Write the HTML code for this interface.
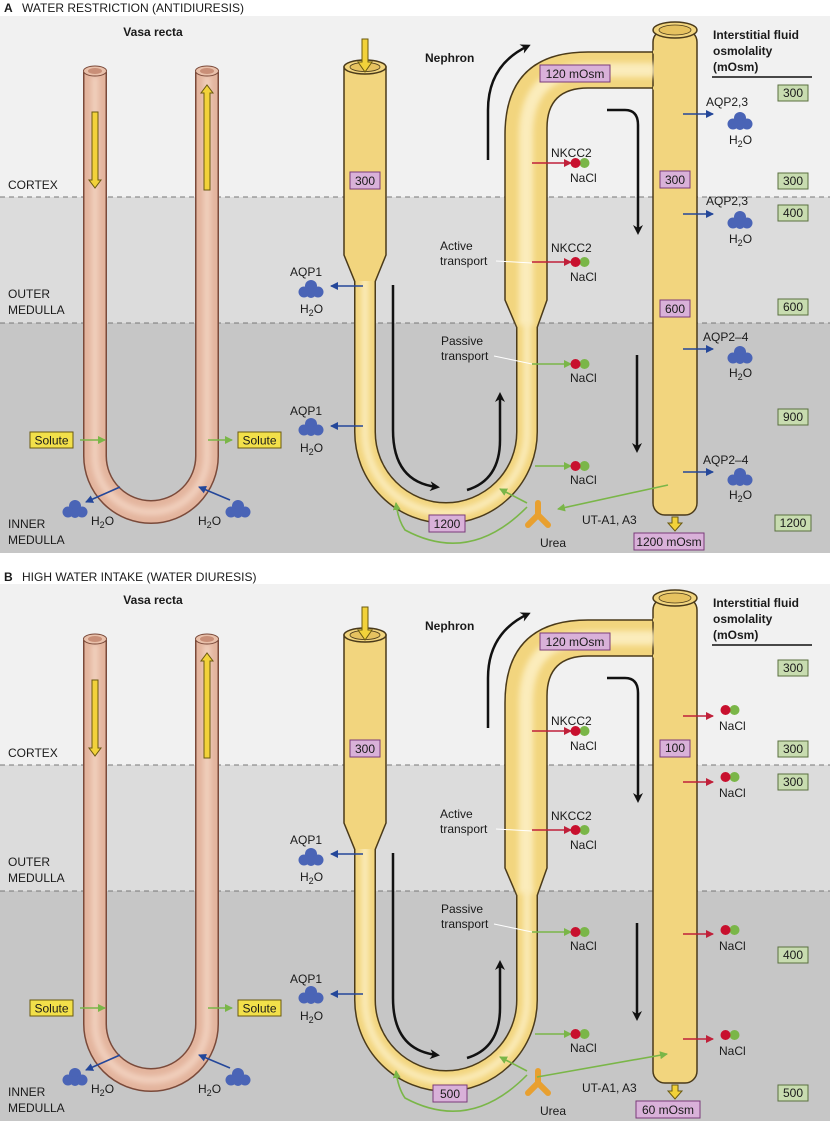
<!DOCTYPE html>
<html><head><meta charset="utf-8"><style>
html,body{margin:0;padding:0;background:#fff}
svg{display:block}
text{font-family:"Liberation Sans",sans-serif;font-size:12px;fill:#1a1a1a}
.b{font-weight:bold}
</style></head><body>
<svg width="830" height="1121" viewBox="0 0 830 1121" xmlns="http://www.w3.org/2000/svg">
<defs>
<filter id="bl" x="-50%" y="-50%" width="200%" height="200%"><feGaussianBlur stdDeviation="3"/></filter>
<marker id="mk" markerWidth="10" markerHeight="10" refX="7" refY="5" orient="auto" markerUnits="userSpaceOnUse"><path d="M0,0 L10,5 L0,10 L3,5 Z" fill="#111"/></marker>
<marker id="mg" markerWidth="8" markerHeight="8" refX="7" refY="4" orient="auto" markerUnits="userSpaceOnUse"><path d="M0,0 L8,4 L0,8 Z" fill="#7ab648"/></marker>
<marker id="mb" markerWidth="8" markerHeight="8" refX="7" refY="4" orient="auto" markerUnits="userSpaceOnUse"><path d="M0,0 L8,4 L0,8 Z" fill="#24479a"/></marker>
<marker id="mr" markerWidth="8" markerHeight="8" refX="7" refY="4" orient="auto" markerUnits="userSpaceOnUse"><path d="M0,0 L8,4 L0,8 Z" fill="#c0203a"/></marker>
<g id="w"><circle cx="0" cy="-4" r="6" fill="#4a64b6"/><circle cx="-7" cy="2" r="5.5" fill="#4a64b6"/><circle cx="7" cy="2" r="5.5" fill="#4a64b6"/><circle cx="0" cy="3" r="5" fill="#4a64b6"/></g>
<g id="n"><circle cx="4.5" cy="0" r="5" fill="#7ab648"/><circle cx="-4.5" cy="0" r="5" fill="#c8102e"/></g>
<g id="S">
 <rect x="0" y="16" width="830" height="181" fill="#f1f1f1"/>
 <rect x="0" y="197" width="830" height="126" fill="#dcdcdc"/>
 <rect x="0" y="323" width="830" height="230" fill="#c6c6c6"/>
 <line x1="0" y1="197" x2="830" y2="197" stroke="#777" stroke-dasharray="5,4"/>
 <line x1="0" y1="323" x2="830" y2="323" stroke="#777" stroke-dasharray="5,4"/>
 <!-- vasa recta -->
 <path d="M95 72 L95 456 A56 56 0 0 0 207 456 L207 72" fill="none" stroke="#7a4a3a" stroke-width="24"/>
 <path d="M95 72 L95 456 A56 56 0 0 0 207 456 L207 72" fill="none" stroke="#e3b49d" stroke-width="21"/>
 <path d="M95 76 L95 456 A56 56 0 0 0 207 456 L207 76" fill="none" stroke="#f2d2c0" stroke-width="7" filter="url(#bl)"/>
 <ellipse cx="95" cy="71" rx="11.5" ry="5" fill="#e9c0aa" stroke="#7a4a3a"/><ellipse cx="95" cy="71" rx="7" ry="3" fill="#c98f78"/>
 <ellipse cx="207" cy="71" rx="11.5" ry="5" fill="#e9c0aa" stroke="#7a4a3a"/><ellipse cx="207" cy="71" rx="7" ry="3" fill="#c98f78"/>
 <polygon points="92,112 98,112 98,180 101,180 95,188 89,180 92,180" fill="#f2d23a" stroke="#6a5a10"/>
 <polygon points="204,190 210,190 210,93 213,93 207,85 201,93 204,93" fill="#f2d23a" stroke="#6a5a10"/>
 <!-- nephron outlines -->
 <path d="M365 275 L365 432 A81 81 0 0 0 527 432 L527 310" fill="none" stroke="#4a3a1a" stroke-width="22"/>
 <path d="M344 67 L344 255 L355 282 L375 282 L386 255 L386 67 Z" fill="#f2d57e" stroke="#4a3a1a" stroke-width="1.5"/>
 <path d="M517 328 L505 300 L505 135 Q505 52 588 52 L660 52 L660 88 L588 88 Q547 88 547 128 L547 300 L537 328 Z" fill="#f2d57e" stroke="#4a3a1a" stroke-width="1.5"/>
 <rect x="653" y="30" width="44" height="485" rx="12" fill="#f2d57e" stroke="#4a3a1a" stroke-width="1.5"/>
 <path d="M365 270 L365 432 A81 81 0 0 0 527 432 L527 320" fill="none" stroke="#f2d57e" stroke-width="19"/>
 <path d="M365 270 L365 432 A81 81 0 0 0 527 432 L527 320" fill="none" stroke="#fbecbb" stroke-width="7" filter="url(#bl)"/>
 <path d="M345 80 L345 254 L356 281 L374 281 L385 254 L385 80 Z" fill="#f2d57e"/>
 <line x1="365" y1="72" x2="365" y2="270" stroke="#fbecbb" stroke-width="14" filter="url(#bl)"/>
 <path d="M526 325 L526 135 Q526 70 590 70 L655 70" fill="none" stroke="#fbecbb" stroke-width="14" filter="url(#bl)"/>
 <rect x="654" y="40" width="42" height="474" rx="11" fill="#f2d57e"/>
 <line x1="675" y1="40" x2="675" y2="505" stroke="#fbecbb" stroke-width="16" filter="url(#bl)"/>
 <path d="M653 52 L660 52 M653 88 L660 88" stroke="#f2d57e" stroke-width="3"/>
 <ellipse cx="365" cy="67" rx="21" ry="7" fill="#f2d57e" stroke="#4a3a1a" stroke-width="1.5"/><ellipse cx="365" cy="67" rx="15" ry="4.5" fill="#e6c260" stroke="#4a3a1a" stroke-width="0.8"/>
 <ellipse cx="675" cy="30" rx="22" ry="8" fill="#f2d57e" stroke="#4a3a1a" stroke-width="1.5"/><ellipse cx="675" cy="30" rx="16" ry="5" fill="#e6c260" stroke="#4a3a1a" stroke-width="0.8"/>
 <polygon points="362,39 368,39 368,62 372,62 365,72 358,62 362,62" fill="#f2d23a" stroke="#6a5a10"/>
 <polygon points="672,517 678,517 678,523 682,523 675,531 668,523 672,523" fill="#f2d23a" stroke="#6a5a10"/>
 <!-- black arrows -->
 <g fill="none" stroke="#111" stroke-width="2.5">
 <path d="M488 160 L488 110 Q488 65 528 46" marker-end="url(#mk)"/>
 <path d="M607 110 L625 110 Q638 110 638 125 L638 232" marker-end="url(#mk)"/>
 <path d="M393 285 L393 430 Q393 482 437 487" marker-end="url(#mk)"/>
 <path d="M467 490 Q500 480 500 440 L500 395" marker-end="url(#mk)"/>
 <path d="M637 355 L637 450" marker-end="url(#mk)"/>
 </g>
 <!-- transport arrows -->
 <g stroke-width="1.6" fill="none">
 <line x1="532" y1="163" x2="571" y2="163" stroke="#c0203a" marker-end="url(#mr)"/>
 <line x1="532" y1="262" x2="571" y2="262" stroke="#c0203a" marker-end="url(#mr)"/>
 <line x1="532" y1="364" x2="571" y2="364" stroke="#7ab648" marker-end="url(#mg)"/>
 <line x1="535" y1="466" x2="571" y2="466" stroke="#7ab648" marker-end="url(#mg)"/>
 <line x1="363" y1="286" x2="331" y2="286" stroke="#24479a" marker-end="url(#mb)"/>
 <line x1="363" y1="426" x2="331" y2="426" stroke="#24479a" marker-end="url(#mb)"/>
 <line x1="80" y1="440" x2="105" y2="440" stroke="#7ab648" marker-end="url(#mg)"/>
 <line x1="208" y1="440" x2="232" y2="440" stroke="#7ab648" marker-end="url(#mg)"/>
 <line x1="120" y1="487" x2="86" y2="502" stroke="#24479a" marker-end="url(#mb)"/>
 <line x1="230" y1="500" x2="199" y2="487" stroke="#24479a" marker-end="url(#mb)"/>
 <path d="M527 503 L500 489" stroke="#7ab648" marker-end="url(#mg)"/>
 <path d="M527 507 Q470 565 405 530 Q398 520 396 503" stroke="#7ab648" marker-end="url(#mg)"/>
 <line x1="496" y1="261" x2="532" y2="263" stroke="#fff" stroke-width="1"/>
 <line x1="494" y1="356" x2="532" y2="364" stroke="#fff" stroke-width="1"/>
 </g>
 <use href="#n" x="580" y="163"/><use href="#n" x="580" y="262"/><use href="#n" x="580" y="364"/><use href="#n" x="580" y="466"/>
 <use href="#w" x="311" y="290"/><use href="#w" x="311" y="428"/><use href="#w" x="75" y="510"/><use href="#w" x="238" y="510"/>
 <g stroke="#e8a030" stroke-width="6" stroke-linecap="round"><line x1="538" y1="515" x2="538" y2="503"/><line x1="538" y1="515" x2="528" y2="525"/><line x1="538" y1="515" x2="548" y2="525"/></g>
 <line x1="712" y1="77" x2="812" y2="77" stroke="#111" stroke-width="1.5"/>
 <rect x="30" y="432" width="43" height="16" fill="#f2e04a" stroke="#6a5a10"/>
 <rect x="238" y="432" width="43" height="16" fill="#f2e04a" stroke="#6a5a10"/>
</g>
</defs>

<use href="#S"/>
<use href="#S" y="568"/>

<!-- Panel A extras -->
<g stroke-width="1.6">
<line x1="683" y1="114" x2="713" y2="114" stroke="#24479a" marker-end="url(#mb)"/>
<line x1="683" y1="214" x2="713" y2="214" stroke="#24479a" marker-end="url(#mb)"/>
<line x1="683" y1="349" x2="713" y2="349" stroke="#24479a" marker-end="url(#mb)"/>
<line x1="683" y1="472" x2="713" y2="472" stroke="#24479a" marker-end="url(#mb)"/>
<line x1="668" y1="485" x2="558" y2="509" stroke="#7ab648" marker-end="url(#mg)"/>
</g>
<use href="#w" x="740" y="122"/><use href="#w" x="740" y="221"/><use href="#w" x="740" y="356"/><use href="#w" x="740" y="478"/>

<!-- Panel B extras -->
<g stroke-width="1.6">
<line x1="683" y1="716" x2="713" y2="716" stroke="#c0203a" marker-end="url(#mr)"/>
<line x1="683" y1="782" x2="713" y2="782" stroke="#c0203a" marker-end="url(#mr)"/>
<line x1="683" y1="934" x2="713" y2="934" stroke="#c0203a" marker-end="url(#mr)"/>
<line x1="683" y1="1039" x2="713" y2="1039" stroke="#c0203a" marker-end="url(#mr)"/>
<line x1="537" y1="1077" x2="667" y2="1054" stroke="#7ab648" marker-end="url(#mg)"/>
</g>
<use href="#n" x="730" y="710"/><use href="#n" x="730" y="777"/><use href="#n" x="730" y="930"/><use href="#n" x="730" y="1035"/>

<!-- pink boxes -->
<g fill="#d9b1d9" stroke="#7a3a7a">
<rect x="350" y="172" width="30" height="17"/><rect x="540" y="65" width="70" height="17"/><rect x="660" y="171" width="30" height="17"/><rect x="660" y="300" width="30" height="17"/><rect x="429" y="515" width="36" height="17"/><rect x="634" y="533" width="70" height="17"/>
<rect x="350" y="740" width="30" height="17"/><rect x="540" y="633" width="70" height="17"/><rect x="660" y="740" width="30" height="17"/><rect x="433" y="1085" width="34" height="17"/><rect x="636" y="1101" width="64" height="17"/>
</g>
<!-- green boxes -->
<g fill="#c8dcb0" stroke="#5a7040">
<rect x="778" y="85" width="30" height="16"/><rect x="778" y="173" width="30" height="16"/><rect x="778" y="205" width="30" height="16"/><rect x="778" y="299" width="30" height="16"/><rect x="778" y="409" width="30" height="16"/><rect x="775" y="515" width="36" height="16"/>
<rect x="778" y="660" width="30" height="16"/><rect x="778" y="741" width="30" height="16"/><rect x="778" y="774" width="30" height="16"/><rect x="778" y="947" width="30" height="16"/><rect x="778" y="1085" width="30" height="16"/>
</g>

<!-- TEXT panel A -->
<text x="4" y="12" class="b">A</text><text x="22" y="12">WATER RESTRICTION (ANTIDIURESIS)</text>
<text x="153" y="36" class="b" text-anchor="middle">Vasa recta</text>
<text x="425" y="62" class="b" font-size="13">Nephron</text>
<text x="713" y="39" class="b">Interstitial fluid</text><text x="713" y="55" class="b">osmolality</text><text x="713" y="71" class="b">(mOsm)</text>
<text x="8" y="189">CORTEX</text><text x="8" y="298">OUTER</text><text x="8" y="314">MEDULLA</text><text x="8" y="528">INNER</text><text x="8" y="544">MEDULLA</text>
<text x="51.5" y="444.5" text-anchor="middle">Solute</text><text x="259.5" y="444.5" text-anchor="middle">Solute</text>
<text x="91" y="525">H<tspan font-size="9" dy="3">2</tspan><tspan dy="-3">O</tspan></text>
<text x="198" y="525">H<tspan font-size="9" dy="3">2</tspan><tspan dy="-3">O</tspan></text>
<text x="290" y="276">AQP1</text><text x="300" y="313">H<tspan font-size="9" dy="3">2</tspan><tspan dy="-3">O</tspan></text>
<text x="290" y="415">AQP1</text><text x="300" y="452">H<tspan font-size="9" dy="3">2</tspan><tspan dy="-3">O</tspan></text>
<text x="551" y="157">NKCC2</text><text x="570" y="182">NaCl</text>
<text x="551" y="252">NKCC2</text><text x="570" y="281">NaCl</text>
<text x="440" y="250">Active</text><text x="440" y="265">transport</text>
<text x="441" y="345">Passive</text><text x="441" y="360">transport</text>
<text x="570" y="382">NaCl</text><text x="570" y="484">NaCl</text>
<text x="553" y="547" text-anchor="middle">Urea</text><text x="582" y="524">UT-A1, A3</text>
<text x="365" y="185" text-anchor="middle">300</text><text x="575" y="78" text-anchor="middle">120 mOsm</text>
<text x="675" y="184" text-anchor="middle">300</text><text x="675" y="313" text-anchor="middle">600</text>
<text x="447" y="528" text-anchor="middle">1200</text><text x="669" y="546" text-anchor="middle">1200 mOsm</text>
<text x="793" y="97" text-anchor="middle">300</text><text x="793" y="185" text-anchor="middle">300</text><text x="793" y="217" text-anchor="middle">400</text><text x="793" y="311" text-anchor="middle">600</text><text x="793" y="421" text-anchor="middle">900</text><text x="793" y="527" text-anchor="middle">1200</text>
<text x="706" y="106">AQP2,3</text><text x="729" y="144">H<tspan font-size="9" dy="3">2</tspan><tspan dy="-3">O</tspan></text>
<text x="706" y="205">AQP2,3</text><text x="729" y="243">H<tspan font-size="9" dy="3">2</tspan><tspan dy="-3">O</tspan></text>
<text x="703" y="341">AQP2–4</text><text x="729" y="377">H<tspan font-size="9" dy="3">2</tspan><tspan dy="-3">O</tspan></text>
<text x="703" y="464">AQP2–4</text><text x="729" y="499">H<tspan font-size="9" dy="3">2</tspan><tspan dy="-3">O</tspan></text>

<!-- TEXT panel B -->
<text x="4" y="581" class="b">B</text><text x="22" y="581">HIGH WATER INTAKE (WATER DIURESIS)</text>
<text x="153" y="604" class="b" text-anchor="middle">Vasa recta</text>
<text x="425" y="630" class="b" font-size="13">Nephron</text>
<text x="713" y="607" class="b">Interstitial fluid</text><text x="713" y="623" class="b">osmolality</text><text x="713" y="639" class="b">(mOsm)</text>
<text x="8" y="757">CORTEX</text><text x="8" y="866">OUTER</text><text x="8" y="882">MEDULLA</text><text x="8" y="1096">INNER</text><text x="8" y="1112">MEDULLA</text>
<text x="51.5" y="1012.5" text-anchor="middle">Solute</text><text x="259.5" y="1012.5" text-anchor="middle">Solute</text>
<text x="91" y="1093">H<tspan font-size="9" dy="3">2</tspan><tspan dy="-3">O</tspan></text>
<text x="198" y="1093">H<tspan font-size="9" dy="3">2</tspan><tspan dy="-3">O</tspan></text>
<text x="290" y="844">AQP1</text><text x="300" y="881">H<tspan font-size="9" dy="3">2</tspan><tspan dy="-3">O</tspan></text>
<text x="290" y="983">AQP1</text><text x="300" y="1020">H<tspan font-size="9" dy="3">2</tspan><tspan dy="-3">O</tspan></text>
<text x="551" y="725">NKCC2</text><text x="570" y="750">NaCl</text>
<text x="551" y="820">NKCC2</text><text x="570" y="849">NaCl</text>
<text x="440" y="818">Active</text><text x="440" y="833">transport</text>
<text x="441" y="913">Passive</text><text x="441" y="928">transport</text>
<text x="570" y="950">NaCl</text><text x="570" y="1052">NaCl</text>
<text x="553" y="1115" text-anchor="middle">Urea</text><text x="582" y="1092">UT-A1, A3</text>
<text x="365" y="753" text-anchor="middle">300</text><text x="575" y="646" text-anchor="middle">120 mOsm</text>
<text x="675" y="752" text-anchor="middle">100</text>
<text x="450" y="1098" text-anchor="middle">500</text><text x="668" y="1114" text-anchor="middle">60 mOsm</text>
<text x="793" y="672" text-anchor="middle">300</text><text x="793" y="753" text-anchor="middle">300</text><text x="793" y="786" text-anchor="middle">300</text><text x="793" y="959" text-anchor="middle">400</text><text x="793" y="1097" text-anchor="middle">500</text>
<text x="719" y="730">NaCl</text><text x="719" y="797">NaCl</text><text x="719" y="950">NaCl</text><text x="719" y="1055">NaCl</text>
</svg>
</body></html>
